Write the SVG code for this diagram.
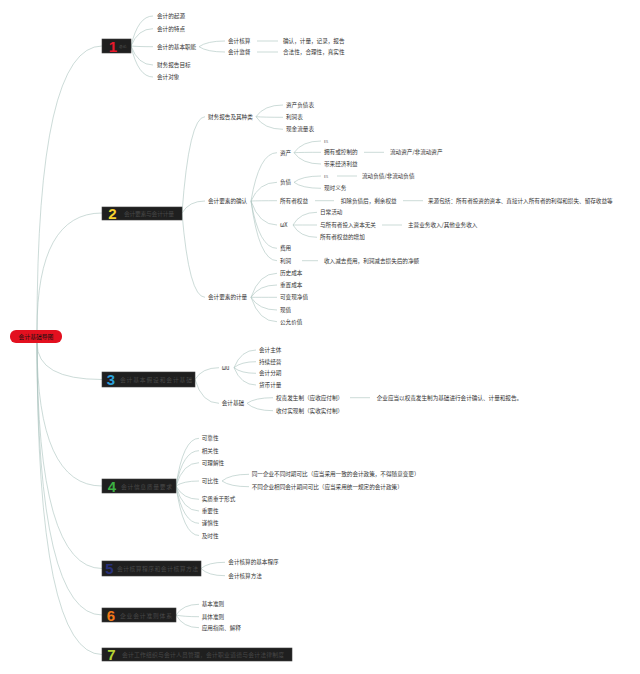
<svg xmlns="http://www.w3.org/2000/svg" width="640" height="674" viewBox="0 0 640 674">
<style>
text{font-family:"Noto Sans CJK SC","Noto Sans",sans-serif;dominant-baseline:central}
.t{font-size:5.6px;fill:#333}
.s{font-size:3.6px;fill:#555}
.c{fill:none;stroke:#a9c3be;stroke-width:0.6}
.box{fill:#1f1f1f;stroke:#3c3c3c;stroke-width:0.6}
.num{font-family:"Liberation Sans",Arial,sans-serif;font-weight:bold;font-size:15px}
.lab{font-size:5.8px;fill:#484848}
</style>
<rect width="640" height="674" fill="#fff"/>
<g id="connectors">
<path class="c" d="M37,330 Q37,46 102,46"/>
<path class="c" d="M37,330 Q37,213 102,213"/>
<path class="c" d="M37,343 Q37,379.5 102,379.5"/>
<path class="c" d="M37,343 Q37,486 102,486"/>
<path class="c" d="M37,343 Q37,568.5 102,568.5"/>
<path class="c" d="M37,343 Q37,615 102,615"/>
<path class="c" d="M37,343 Q37,654.5 102,654.5"/>
<path class="c" d="M131,46 Q138,16 153,16 M131,46 Q138,28.7 153,28.7 M131,46 Q138,46.7 153,46.7 M131,46 Q138,65 153,65 M131,46 Q138,77 153,77"/>
<path class="c" d="M199,46.7 Q207,41 225,41 M199,46.7 Q207,52 225,52 M257,41 H278 M257,52 H278"/>
<path class="c" d="M182,213 Q189,116.7 205,116.7 M182,213 Q189,201 205,201 M182,213 Q189,297.3 205,297.3"/>
<path class="c" d="M256,116.7 Q264,105 283,105 M256,116.7 Q264,117.3 283,117.3 M256,116.7 Q264,129.3 283,129.3"/>
<path class="c" d="M251,201 Q259,152.7 277,152.7 M251,201 Q259,182.3 277,182.3 M251,201 Q259,200.7 277,200.7 M251,201 Q259,225 277,225 M251,201 Q259,248.3 277,248.3 M251,201 Q259,260.7 277,260.7"/>
<path class="c" d="M294,152.7 Q302,141 321,141 M294,152.7 Q302,152.3 321,152.3 M294,152.7 Q302,164 321,164 M364,152.3 H384"/>
<path class="c" d="M294,182.3 Q302,176 321,176 M294,182.3 Q302,188.3 321,188.3 M337,176 H357"/>
<path class="c" d="M315,200.7 H334 M403,200.7 H423"/>
<path class="c" d="M293,225 Q300,212.3 317,212.3 M293,225 Q300,225 317,225 M293,225 Q300,237.3 317,237.3 M382,225 H402"/>
<path class="c" d="M302,260.7 H318"/>
<path class="c" d="M251,297.3 Q259,273.3 277,273.3 M251,297.3 Q259,285 277,285 M251,297.3 Q259,297.3 277,297.3 M251,297.3 Q259,310 277,310 M251,297.3 Q259,321.7 277,321.7"/>
<path class="c" d="M195,379.5 Q202,367.7 219,367.7 M195,379.5 Q202,403.3 219,403.3"/>
<path class="c" d="M234,367.7 Q241,350 256,350 M234,367.7 Q241,361.7 256,361.7 M234,367.7 Q241,373.3 256,373.3 M234,367.7 Q241,385 256,385"/>
<path class="c" d="M247,403.3 Q255,397.7 273,397.7 M247,403.3 Q255,410.7 273,410.7 M350,397.7 H370"/>
<path class="c" d="M176,486 Q183,438.3 199,438.3 M176,486 Q183,450.7 199,450.7 M176,486 Q183,462.7 199,462.7 M176,486 Q183,481 199,481 M176,486 Q183,499.3 199,499.3 M176,486 Q183,511 199,511 M176,486 Q183,523.3 199,523.3 M176,486 Q183,535.5 199,535.5"/>
<path class="c" d="M222,481 Q230,474.3 249,474.3 M222,481 Q230,486.7 249,486.7"/>
<path class="c" d="M201,568.5 Q208,562.3 225,562.3 M201,568.5 Q208,575.7 225,575.7"/>
<path class="c" d="M176,615 Q183,604.3 199,604.3 M176,615 Q183,616.7 199,616.7 M176,615 Q183,627.7 199,627.7"/>
</g>
<g id="root">
<rect x="10" y="330" width="52" height="13" rx="6" fill="#e3101f"/>
<text x="36" y="336.5" text-anchor="middle" style="font-size:5.8px;fill:#111">会计基础导图</text>
</g>
<g id="n1">
<rect class="box" x="102" y="39" width="29" height="14"/>
<text class="num" x="113" y="46.5" text-anchor="middle" fill="#e8192c">1</text>
<text x="119" y="46.5" style="font-size:3.8px;fill:#555">总论</text>
</g>
<g id="n1-children">
<text class="t" x="157" y="16">会计的起源</text>
<text class="t" x="157" y="28.7">会计的特点</text>
<text class="t" x="157" y="46.7">会计的基本职能</text>
<text class="t" x="157" y="65">财务报告目标</text>
<text class="t" x="157" y="77">会计对象</text>
<text class="t" x="228" y="41">会计核算</text>
<text class="t" x="228" y="52">会计监督</text>
<text class="t" x="283" y="41">确认，计量，记录，报告</text>
<text class="t" x="283" y="52">合法性，合理性，真实性</text>
</g>
<g id="n2">
<rect class="box" x="102" y="207" width="80" height="13"/>
<text class="num" x="112.5" y="213.5" text-anchor="middle" fill="#f5d130">2</text>
<text class="lab" x="124" y="213.5" textLength="50">会计要素与会计计量</text>
</g>
<g id="n2-children">
<text class="t" x="208" y="116.7">财务报告及其种类</text>
<text class="t" x="286" y="105">资产负债表</text>
<text class="t" x="286" y="117.3">利润表</text>
<text class="t" x="286" y="129.3">现金流量表</text>
<text class="t" x="208" y="201">会计要素的确认</text>
<text class="t" x="280" y="152.7">资产</text>
<text class="s" x="324" y="141">ES</text>
<text class="t" x="324" y="152.3">拥有或控制的</text>
<text class="t" x="390" y="152.3">流动资产/非流动资产</text>
<text class="t" x="324" y="164">带来经济利益</text>
<text class="t" x="280" y="182.3">负债</text>
<text class="s" x="324" y="176">ES</text>
<text class="t" x="362" y="176">流动负债/非流动负债</text>
<text class="t" x="324" y="188.3">现时义务</text>
<text class="t" x="280" y="200.7">所有者权益</text>
<text class="t" x="340.7" y="200.7">扣除负债后，剩余权益</text>
<text class="t" x="428" y="200.7">来源包括：所有者投资的资本、直接计入所有者的利得和损失、留存收益等</text>
<text class="t" x="280" y="225">ωX</text>
<text class="t" x="320" y="212.3">日常活动</text>
<text class="t" x="320" y="225">与所有者投入资本无关</text>
<text class="t" x="408" y="225">主营业务收入/其他业务收入</text>
<text class="t" x="320" y="237.3">所有者权益的增加</text>
<text class="t" x="280" y="248.3">费用</text>
<text class="t" x="280" y="260.7">利润</text>
<text class="t" x="324" y="260.7">收入减去费用，利润减去损失后的净额</text>
<text class="t" x="208" y="297.3">会计要素的计量</text>
<text class="t" x="280" y="273.3">历史成本</text>
<text class="t" x="280" y="285">重置成本</text>
<text class="t" x="280" y="297.3">可变现净值</text>
<text class="t" x="280" y="310">现值</text>
<text class="t" x="280" y="321.7">公允价值</text>
</g>
<g id="n3">
<rect class="box" x="102" y="372" width="93" height="15"/>
<text class="num" x="111" y="379.5" text-anchor="middle" fill="#2b9fd9">3</text>
<text class="lab" x="120" y="379.5" textLength="72">会计基本假设和会计基础</text>
</g>
<g id="n3-children">
<text class="t" x="221.7" y="367.7">ωu</text>
<text class="t" x="259" y="350">会计主体</text>
<text class="t" x="259" y="361.7">持续经营</text>
<text class="t" x="259" y="373.3">会计分期</text>
<text class="t" x="259" y="385">货币计量</text>
<text class="t" x="221.7" y="403.3">会计基础</text>
<text class="t" x="276" y="397.7">权责发生制（应收应付制）</text>
<text class="t" x="276" y="410.7">收付实现制（实收实付制）</text>
<text class="t" x="376.7" y="397.7">企业应当以权责发生制为基础进行会计确认、计量和报告。</text>
</g>
<g id="n4">
<rect class="box" x="102" y="479" width="74" height="14"/>
<text class="num" x="112" y="486" text-anchor="middle" fill="#3cb043">4</text>
<text class="lab" x="121" y="486" textLength="51">会计信息质量要求</text>
</g>
<g id="n4-children">
<text class="t" x="201.7" y="438.3">可靠性</text>
<text class="t" x="201.7" y="450.7">相关性</text>
<text class="t" x="201.7" y="462.7">可理解性</text>
<text class="t" x="201.7" y="481">可比性</text>
<text class="t" x="251.7" y="474.3">同一企业不同时期可比（应当采用一致的会计政策，不得随意变更）</text>
<text class="t" x="251.7" y="486.7">不同企业相同会计期间可比（应当采用统一规定的会计政策）</text>
<text class="t" x="201.7" y="499.3">实质重于形式</text>
<text class="t" x="201.7" y="511">重要性</text>
<text class="t" x="201.7" y="523.3">谨慎性</text>
<text class="t" x="201.7" y="535.5">及时性</text>
</g>
<g id="n5">
<rect class="box" x="102" y="561" width="99" height="15"/>
<text class="num" x="109.5" y="568.5" text-anchor="middle" fill="#28307a">5</text>
<text class="lab" x="117" y="568.5" textLength="81">会计核算程序和会计核算方法</text>
</g>
<g id="n5-children">
<text class="t" x="228.3" y="562.3">会计核算的基本程序</text>
<text class="t" x="228.3" y="575.7">会计核算方法</text>
</g>
<g id="n6">
<rect class="box" x="102" y="608" width="74" height="14"/>
<text class="num" x="111" y="615" text-anchor="middle" fill="#f07818">6</text>
<text class="lab" x="120" y="615" textLength="52">企业会计准则体系</text>
</g>
<g id="n6-children">
<text class="t" x="201.7" y="604.3">基本准则</text>
<text class="t" x="201.7" y="616.7">具体准则</text>
<text class="t" x="201.7" y="627.7">应用指南、解释</text>
</g>
<g id="n7">
<rect class="box" x="102" y="648" width="190" height="13"/>
<text class="num" x="111.5" y="654.5" text-anchor="middle" fill="#b5d334">7</text>
<text class="lab" x="122" y="654.5" textLength="162">会计工作组织与会计人员管理，会计职业道德与会计法律制度</text>
</g>
</svg>
